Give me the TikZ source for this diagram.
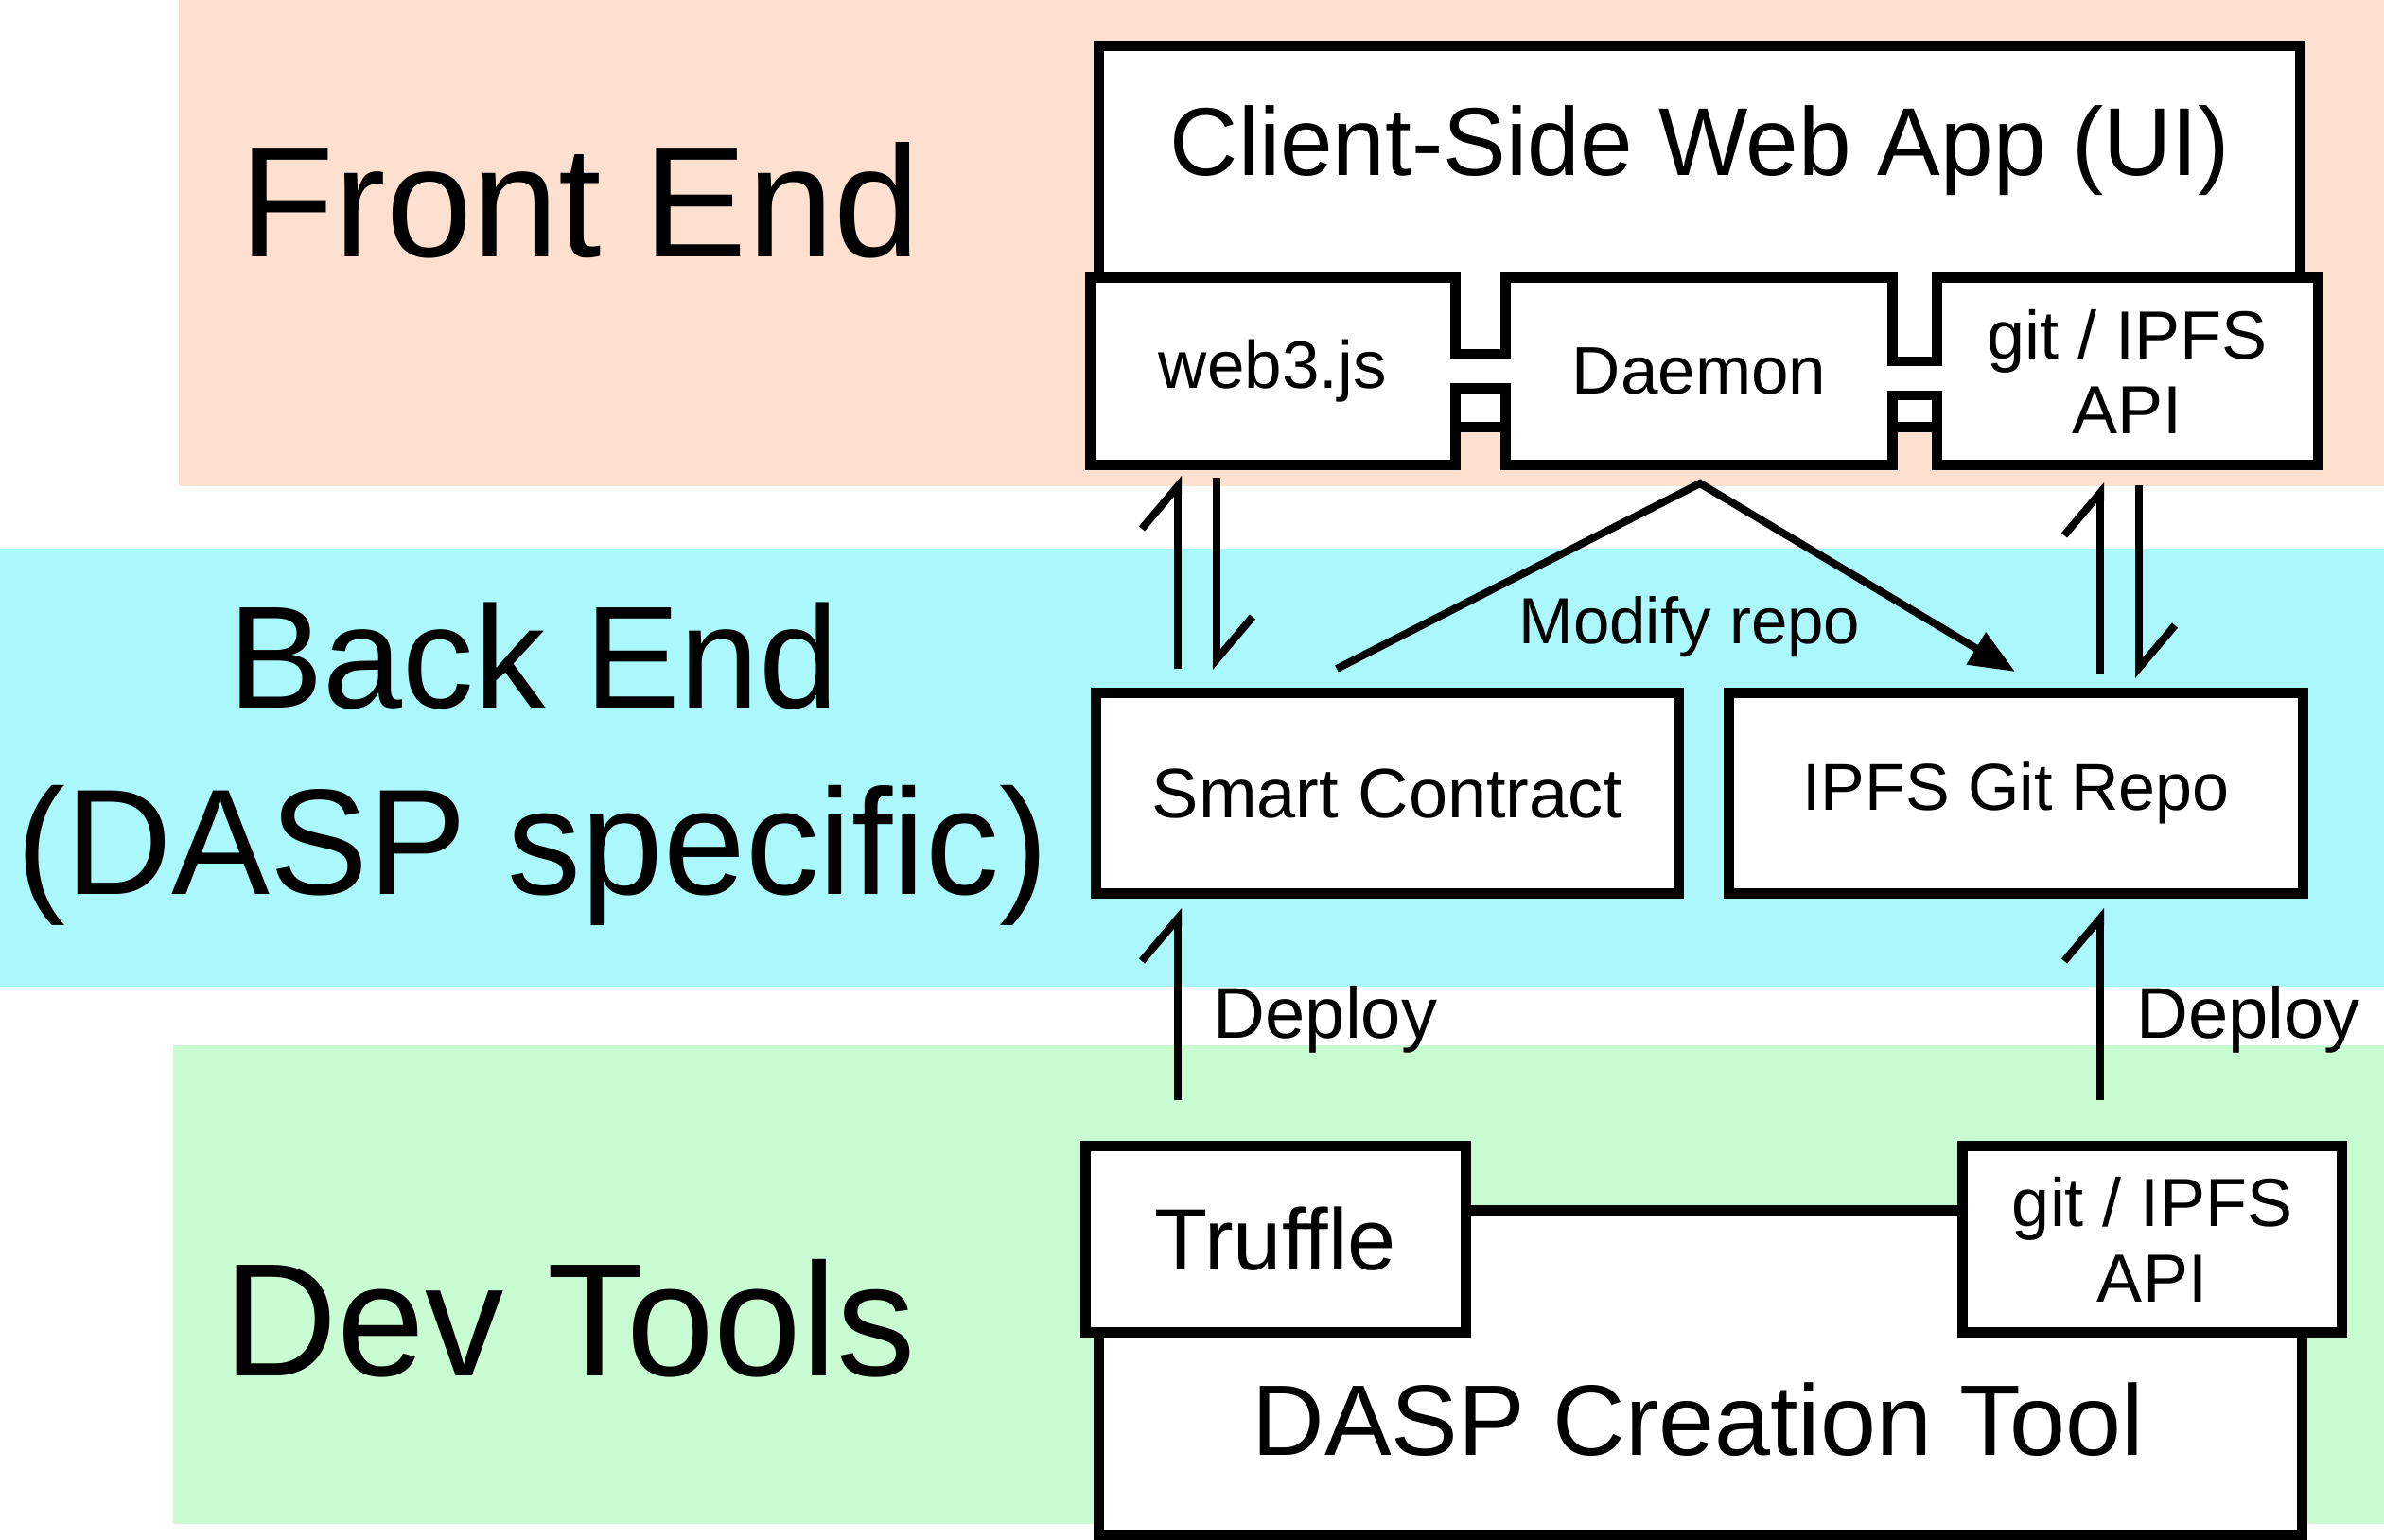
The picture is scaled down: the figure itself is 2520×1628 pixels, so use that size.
\documentclass[tikz,border=0pt]{standalone}
\usepackage{fontspec}
\setmainfont{Liberation Sans}
\newfontfamily\bigf{Liberation Sans}[FakeStretch=0.98]
\usetikzlibrary{arrows.meta}
\definecolor{peach}{RGB}{253,224,208}
\definecolor{cyanb}{RGB}{170,248,252}
\definecolor{greenb}{RGB}{200,252,210}
\newcommand{\fz}[2]{\fontsize{#1}{#2}\selectfont}
\begin{document}
\begin{tikzpicture}[x=1pt,y=-1pt,
  box/.style={draw=black, fill=white, line width=11pt, inner sep=0pt, rectangle, align=center},
  lbl/.style={inner sep=0pt, anchor=base},
  harp/.style={line width=8pt, -{Straight Barb[harpoon,length=45pt,width=76pt]}},
  gapline/.style={line width=11pt},
  flow/.style={line width=8pt, -{Triangle[length=48pt,width=38pt]}}]
\useasboundingbox (0,0) rectangle (2520,1628);
% bands
\fill[peach] (189,0) rectangle (2520,514);
\fill[cyanb] (0,580) rectangle (2520,1043);
\fill[greenb] (183,1105) rectangle (2520,1611);
% band labels
\node[lbl, font=\bigf\fz{167}{190}] (fe) at (613,271) {Front End};
\node[lbl, font=\bigf\fz{154}{180}] (be) at (564,748) {Back End};
\node[lbl, font=\bigf\fz{159}{180}] (bes) at (563,945) {(DASP specific)};
\node[lbl, font=\bigf\fz{170}{190}] (dt) at (602,1454) {Dev Tools};
% front end
\node[box, minimum width=1270pt, minimum height=327pt] (client) at (1796,211.5) {};
\node[lbl, font=\bigf\fz{102}{120}] (clienttxt) at (1797,185) {Client-Side Web App (UI)};
\node[box, minimum width=386.5pt, minimum height=198pt, font=\fz{71}{80}] (web3) at (1345.25,392.5) {web3.js};
\node[box, minimum width=409pt, minimum height=198pt, font=\fz{71}{80}] (daemon) at (1796,392.5) {Daemon};
\node[box, minimum width=402.5pt, minimum height=198pt, font=\fz{72}{79}] (gitf) at (2248.75,392.5) {git / IPFS\\API};
% gap 1 between web3 and daemon
\fill[white] (1544,299) rectangle (1586,374.5);
\draw[gapline] (1533,374.5) -- (1597,374.5);
\fill[white] (1532,380) rectangle (1598,405);
\draw[gapline] (1533,410.5) -- (1597,410.5);
\fill[white] (1544,416) rectangle (1586,446);
\draw[gapline] (1538,451.5) -- (1592,451.5);
% gap 2 between daemon and git
\fill[white] (2006,299) rectangle (2042,377);
\draw[gapline] (1995,382) -- (2053,382);
\fill[white] (1994,387) rectangle (2054,413);
\draw[gapline] (1995,418) -- (2053,418);
\fill[white] (2006,423) rectangle (2042,446);
\draw[gapline] (2000,451.5) -- (2048,451.5);
% back end
\node[box, minimum width=616pt, minimum height=212pt, font=\fz{74}{80}] (smart) at (1466.5,838.6) {Smart Contract};
\node[box, minimum width=607pt, minimum height=212pt, font=\fz{70}{80}] (repo) at (2131,838.6) {IPFS Git Repo};
% dev tools
\node[box, minimum width=1272pt, minimum height=343pt] (dasp) at (1797,1450.5) {};
\node[lbl, font=\fz{106}{120}] (dasptxt) at (1795,1538) {DASP Creation Tool};
\node[box, minimum width=402.5pt, minimum height=197pt, font=\fz{92}{95}] (truffle) at (1348.25,1310) {Truffle};
\node[box, minimum width=401pt, minimum height=197pt, font=\fz{72}{80}] (gitb) at (2275,1310) {git / IPFS\\API};
% arrow coordinates
\coordinate (l1a) at (1245,707); \coordinate (l1b) at (1245,503);
\coordinate (l2a) at (1286,505); \coordinate (l2b) at (1286,708);
\coordinate (r1a) at (2220,713); \coordinate (r1b) at (2220,510);
\coordinate (r2a) at (2261,513); \coordinate (r2b) at (2261,717);
\coordinate (d1a) at (1245,1163); \coordinate (d1b) at (1245,960);
\coordinate (d2a) at (2220,1163); \coordinate (d2b) at (2220,960);
\coordinate (m0) at (1413,707); \coordinate (m1) at (1797,511); \coordinate (m2) at (2130,710);
% arrows
\draw[harp] (l1a) -- (l1b);
\draw[harp] (l2a) -- (l2b);
\draw[harp] (r1a) -- (r1b);
\draw[harp] (r2a) -- (r2b);
\draw[harp] (d1a) -- (d1b);
\draw[harp] (d2a) -- (d2b);
\draw[flow] (m0) -- (m1) -- (m2);
% arrow labels
\node[lbl, font=\fz{69}{80}] (modlbl) at (1786,680) {Modify repo};
\node[lbl, font=\fz{76}{80}] (dep1) at (1401,1097) {Deploy};
\node[lbl, font=\fz{76}{80}] (dep2) at (2376.5,1097) {Deploy};
\end{tikzpicture}
\end{document}
